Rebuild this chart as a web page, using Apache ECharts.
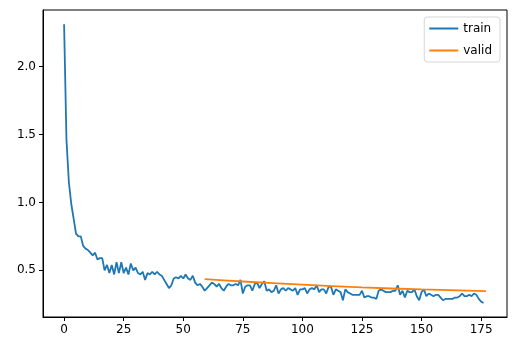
<!DOCTYPE html>
<html>
<head>
<meta charset="utf-8">
<script src="https://cdn.jsdelivr.net/npm/echarts@6/dist/echarts.min.js"></script>
<style>
  html, body { margin: 0; padding: 0; background: #fff; }
  #chart { width: 516px; height: 351px; }
</style>
</head>
<body>
<div id="chart"></div>
<script>
// train loss per epoch (0..176)
const trainLoss = [
  2.31, 1.46, 1.15, 0.99, 0.88, 0.77, 0.75, 0.75, 0.68, 0.66,
  0.65, 0.63, 0.61, 0.63, 0.58, 0.59, 0.59, 0.50, 0.54, 0.48,
  0.54, 0.47, 0.56, 0.48, 0.56, 0.48, 0.52, 0.47, 0.55, 0.50,
  0.52, 0.48, 0.47, 0.49, 0.43, 0.48, 0.47, 0.49, 0.47, 0.49,
  0.47, 0.46, 0.43, 0.40, 0.37, 0.39, 0.44, 0.45, 0.44, 0.46,
  0.44, 0.47, 0.44, 0.43, 0.46, 0.41, 0.39, 0.40, 0.38, 0.35,
  0.37, 0.39, 0.41, 0.40, 0.38, 0.40, 0.37, 0.35, 0.38, 0.40,
  0.39, 0.39, 0.40, 0.39, 0.43, 0.33, 0.38, 0.39, 0.39, 0.35,
  0.40, 0.41, 0.37, 0.40, 0.42, 0.35, 0.36, 0.34, 0.35, 0.39,
  0.33, 0.36, 0.37, 0.35, 0.37, 0.36, 0.35, 0.37, 0.32, 0.36,
  0.36, 0.37, 0.33, 0.36, 0.37, 0.36, 0.39, 0.34, 0.36, 0.36,
  0.33, 0.38, 0.38, 0.32, 0.36, 0.35, 0.34, 0.28, 0.36, 0.34,
  0.33, 0.32, 0.32, 0.32, 0.32, 0.35, 0.30, 0.31, 0.31, 0.30,
  0.30, 0.29, 0.35, 0.36, 0.35, 0.34, 0.34, 0.34, 0.35, 0.35,
  0.39, 0.32, 0.35, 0.30, 0.35, 0.34, 0.34, 0.36, 0.31, 0.28,
  0.34, 0.36, 0.31, 0.33, 0.32, 0.31, 0.32, 0.32, 0.30, 0.28,
  0.29, 0.29, 0.29, 0.29, 0.30, 0.30, 0.31, 0.33, 0.31, 0.31,
  0.32, 0.31, 0.33, 0.32, 0.29, 0.27, 0.26
]
// valid loss, read at a few epochs
const validEpochs = [59, 75, 100, 125, 150, 177]
const validLoss = [0.436, 0.418, 0.395, 0.375, 0.36, 0.348]

const xTicks = [0, 25, 50, 75, 100, 125, 150, 175]
const yTicks = [0.5, 1.0, 1.5, 2.0]

const font = 'DejaVu Sans'
const myChart = echarts.init(document.getElementById('chart'))

const option = {
  animation: false,
  backgroundColor: '#fff',
  grid: {
    left: 43,
    right: 9,
    top: 10,
    bottom: 34,
    show: true,
    borderColor: '#000',
    borderWidth: 1
  },
  legend: {
    orient: 'vertical',
    right: 16,
    top: 17,
    data: ['train', 'valid'],
    icon: 'rect',
    itemWidth: 29,
    itemHeight: 2,
    itemGap: 9,
    padding: [5, 8, 5, 5],
    borderColor: '#d6d6d6',
    borderWidth: 1,
    borderRadius: 3,
    textStyle: { fontFamily: font, fontSize: 12, color: '#000', lineHeight: 13 }
  },
  xAxis: {
    type: 'value',
    min: -8.85,
    max: 185.85,
    splitLine: { show: false },
    axisLine: { onZero: false, lineStyle: { color: '#000' } },
    axisTick: { length: 4, customValues: xTicks, lineStyle: { color: '#000' } },
    axisLabel: {
      customValues: xTicks,
      margin: 7,
      fontFamily: font,
      fontSize: 12,
      color: '#000'
    }
  },
  yAxis: {
    type: 'value',
    min: 0.157,
    max: 2.415,
    splitLine: { show: false },
    axisLine: { show: true, onZero: false, lineStyle: { color: '#000' } },
    axisTick: { show: true, length: 4, customValues: yTicks, lineStyle: { color: '#000' } },
    axisLabel: {
      customValues: yTicks,
      margin: 7,
      fontFamily: font,
      fontSize: 12,
      color: '#000',
      formatter: v => v.toFixed(1)
    }
  },
  series: [
    {
      name: 'train',
      type: 'line',
      showSymbol: false,
      color: '#1f77b4',
      lineStyle: { width: 1.8 },
      data: trainLoss.map((v, i) => [i, v])
    },
    {
      name: 'valid',
      type: 'line',
      showSymbol: false,
      smooth: true,
      color: '#ff7f0e',
      lineStyle: { width: 1.8 },
      data: validEpochs.map((e, i) => [e, validLoss[i]])
    }
  ]
}

myChart.setOption(option)
</script>
</body>
</html>
